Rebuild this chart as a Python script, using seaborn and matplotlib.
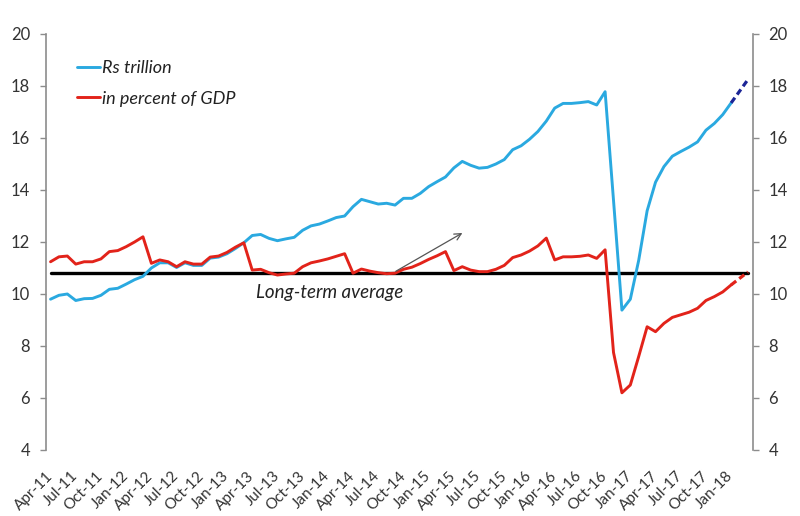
import numpy as np
import pandas as pd
import matplotlib
matplotlib.use("Agg")
import matplotlib.pyplot as plt
import matplotlib.transforms as mtransforms
import seaborn as sns

# ---------------- data ----------------
tick_labels = ["Apr-11", "Jul-11", "Oct-11", "Jan-12", "Apr-12", "Jul-12", "Oct-12",
               "Jan-13", "Apr-13", "Jul-13", "Oct-13", "Jan-14", "Apr-14", "Jul-14",
               "Oct-14", "Jan-15", "Apr-15", "Jul-15", "Oct-15", "Jan-16", "Apr-16",
               "Jul-16", "Oct-16", "Jan-17", "Apr-17", "Jul-17", "Oct-17", "Jan-18"]

# monthly, Apr-11 .. Mar-18
rs_trillion = [9.80, 9.95, 10.00, 9.75, 9.82, 9.83, 9.95, 10.18, 10.22, 10.38, 10.55, 10.68,
               11.00, 11.20, 11.20, 11.02, 11.20, 11.10, 11.10, 11.38, 11.42, 11.55, 11.75, 11.97,
               12.25, 12.29, 12.14, 12.05, 12.12, 12.18, 12.45, 12.62, 12.69, 12.81, 12.94, 13.00,
               13.36, 13.64, 13.55, 13.46, 13.49, 13.42, 13.68, 13.68, 13.87, 14.13, 14.32, 14.50,
               14.85, 15.10, 14.95, 14.84, 14.87, 15.00, 15.17, 15.55, 15.70, 15.95, 16.25, 16.65,
               17.15, 17.33, 17.33, 17.36, 17.40, 17.27, 17.78, 13.60, 9.38, 9.80, 11.30, 13.20,
               14.30, 14.90, 15.30, 15.48, 15.65, 15.85, 16.30, 16.56, 16.90, 17.35, 17.80, 18.25]

pct_of_gdp = [11.24, 11.43, 11.46, 11.15, 11.24, 11.24, 11.35, 11.63, 11.67, 11.82, 12.00, 12.20,
              11.18, 11.31, 11.24, 11.05, 11.24, 11.15, 11.15, 11.42, 11.46, 11.60, 11.80, 11.97,
              10.92, 10.95, 10.82, 10.73, 10.77, 10.80, 11.05, 11.20, 11.27, 11.35, 11.45, 11.55,
              10.80, 10.96, 10.88, 10.82, 10.78, 10.80, 10.95, 11.03, 11.17, 11.33, 11.47, 11.63,
              10.90, 11.05, 10.92, 10.86, 10.86, 10.95, 11.10, 11.40, 11.50, 11.65, 11.85, 12.15,
              11.31, 11.43, 11.43, 11.45, 11.50, 11.37, 11.70, 7.75, 6.20, 6.50, 7.60, 8.74,
              8.55, 8.87, 9.10, 9.20, 9.30, 9.45, 9.75, 9.90, 10.08, 10.35, 10.60, 10.85]

long_term_average = 10.82
first_projected = 81  # from this month on the lines are dashed

months = pd.date_range("2011-04-01", periods=len(rs_trillion), freq="MS").strftime("%b-%y")
df = pd.DataFrame({"pos": np.arange(len(months)), "month": months,
                   "rs": rs_trillion, "pct": pct_of_gdp,
                   "avg": [long_term_average] * len(months)})

BLUE = "#2aa9e0"
NAVY = "#1c2596"
RED = "#e2231a"

# ---------------- plot ----------------
sns.set_theme(style="white")
plt.rcParams["font.family"] = ["Lato", "DejaVu Sans"]

fig = plt.figure(figsize=(8, 5.16), dpi=100)
ax = fig.add_axes([45.5 / 800, 66 / 516, 707.5 / 800, 416 / 516])

solid = df.iloc[:first_projected + 1]
proj = df.iloc[first_projected:]

sns.lineplot(data=df, x="pos", y="avg", color="black", lw=2.4, ax=ax, legend=False)
sns.lineplot(data=solid, x="pos", y="rs", color=BLUE, lw=2.1, ax=ax, label="Rs trillion")
sns.lineplot(data=solid, x="pos", y="pct", color=RED, lw=2.1, ax=ax, label="in percent of GDP")
sns.lineplot(data=proj, x="pos", y="rs", color=NAVY, lw=2.3, ls=(0, (2, 1.2)), ax=ax, legend=False)
sns.lineplot(data=proj, x="pos", y="pct", color=RED, lw=2.3, ls=(0, (2, 1.2)), ax=ax, legend=False)

handles = [ax.lines[1], ax.lines[2]]
leg = ax.legend(handles=handles, labels=["Rs trillion", "in percent of GDP"],
                loc="upper left", bbox_to_anchor=(0.044, 0.937), frameon=False,
                borderpad=0, borderaxespad=0, handlelength=1.3, handletextpad=0.12,
                labelspacing=0.8, prop={"size": 13, "style": "italic"})
for t in leg.get_texts():
    t.set_color("#222222")

ax.text(24.4, 10.05, "Long-term average", fontsize=13.5, style="italic",
        color="#222222", ha="left", va="center")
ax.annotate("", xy=(49.3, 12.4), xytext=(40.8, 10.82),
            arrowprops=dict(arrowstyle="->", color="#555555", lw=0.9, mutation_scale=12))

ax.set_xlim(-0.6, len(months) - 1 + 0.6)
ax.set_ylim(4, 20)
ax.set_yticks(np.arange(4, 21, 2))
ax.set_xticks(np.arange(0, len(months), 3))
ax.set_xticklabels(tick_labels, rotation=45, ha="right", va="center",
                   rotation_mode="anchor", fontsize=11, color="#333333")
offset = mtransforms.ScaledTranslation(4 / 100, 0, fig.dpi_scale_trans)
for lab in ax.get_xticklabels():
    lab.set_transform(lab.get_transform() + offset)
ax.set_xlabel("")
ax.set_ylabel("")

ax.tick_params(axis="x", length=0, pad=17)
ax.tick_params(axis="y", direction="out", length=4, width=1, color="#8c8c8c",
               left=True, right=True, labelleft=True, labelright=True,
               labelsize=12, labelcolor="#333333", pad=7)

for s in ["top", "bottom"]:
    ax.spines[s].set_visible(False)
for s in ["left", "right"]:
    ax.spines[s].set_visible(True)
    ax.spines[s].set_color("#8c8c8c")
    ax.spines[s].set_linewidth(1.2)

ax.grid(False)
fig.savefig("out.png", dpi=100)
